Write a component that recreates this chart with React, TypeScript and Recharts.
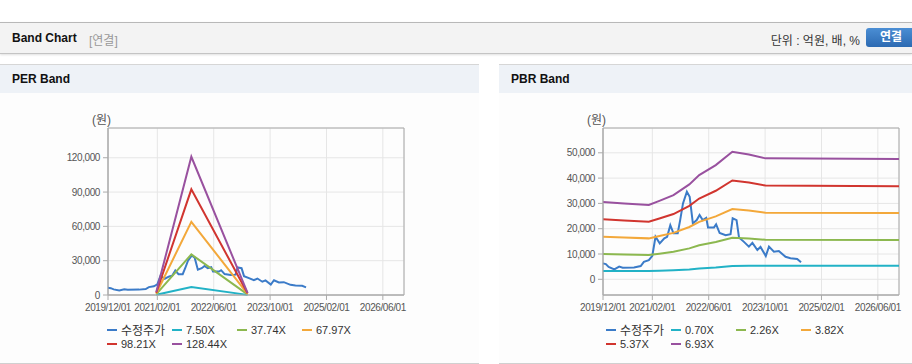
import React from 'react';
import { LineChart, Line, XAxis, YAxis, CartesianGrid, ReferenceArea } from 'recharts';

// x values are months counted from 2019/12
const tickMonths = [0, 14, 30, 46, 62, 78];
const tickLabels = ['2019/12/01', '2021/02/01', '2022/06/01', '2023/10/01', '2025/02/01', '2026/06/01'];

const priceMonths = [0, 0.8, 1.6, 3.2, 4.6, 5.6, 8.8, 10.7, 11.6, 13, 14, 14.9, 16.1, 17.4, 18.2, 19.1, 20, 21.2, 21.9, 22.7, 23.8, 24.6, 25.5, 26.6, 27.4, 28.3, 29.3, 29.8, 31.5, 32.1, 33.1, 34.8, 36.2, 36.8, 37.9, 38.6, 40, 41.4, 42.4, 43.8, 44.7, 46.2, 47.1, 48.5, 49.9, 51.8, 53.2, 55.1, 56.2];
const priceValues = [6300, 6000, 4900, 3950, 5000, 4600, 4700, 5250, 6900, 7600, 9300, 16800, 14200, 16200, 16800, 21400, 18200, 18200, 23400, 30000, 34600, 32600, 22100, 23400, 25400, 23400, 24300, 20500, 20500, 21700, 18300, 17400, 17800, 24100, 23400, 16500, 14800, 12900, 14400, 11600, 12800, 9200, 12900, 10900, 11200, 8900, 8300, 8000, 6700];

const perMonths = [13.7, 23.65, 39.6];
const perNames = ['7.50X', '37.74X', '67.97X', '98.21X', '128.44X'];
const per750 = [150, 7060, 110];
const per3774 = [755, 35500, 570];
const per6797 = [1360, 63950, 1020];
const per9821 = [1960, 92400, 1470];
const per12844 = [2570, 120850, 1930];

const pbrMonths = [0, 6, 13, 16, 20, 24.5, 27.3, 32, 36.7, 41.4, 46.1, 84];
const pbrNames = ['0.70X', '2.26X', '3.82X', '5.37X', '6.93X'];
const pbr070 = [3250, 3250, 3300, 3400, 3600, 3900, 4250, 4700, 5300, 5350, 5350, 5350];
const pbr226 = [9980, 9780, 9570, 10110, 10860, 12230, 13440, 14720, 16440, 16090, 15590, 15490];
const pbr382 = [16870, 16540, 16180, 17090, 18360, 20670, 22710, 24890, 27780, 27200, 26350, 26180];
const pbr537 = [23710, 23250, 22740, 24020, 25800, 29060, 31930, 34990, 39060, 38240, 37040, 36810];
const pbr693 = [30600, 30000, 29350, 31000, 33300, 37500, 41200, 45150, 50400, 49350, 47800, 47500];

const colors = ['#3b7bc8', '#22b2c6', '#8cb84f', '#f3a83a', '#d1352f', '#99519f'];
const priceName = '수정주가';

const pts = (ms: number[], vs: number[]) => ms.map((m, i) => ({ m, v: vs[i] }));
const fmtMonth = (v: number) => tickLabels[tickMonths.indexOf(v)] ?? '';
const fmtNum = (v: number) => v.toLocaleString('en-US');

const FONT = '"Liberation Sans", "Noto Sans CJK KR", sans-serif';

interface BandProps {
  left: number;
  yWidth: number;
  yDomain: [number, number];
  yTicks: number[];
  bandMonths: number[];
  bands: number[][];
  names: string[];
}

const BandChart: React.FC<BandProps> = ({ left, yWidth, yDomain, yTicks, bandMonths, bands, names }) => {
  const axisTick = { fontSize: 10, fill: '#555', letterSpacing: -0.4 };
  const legend = [priceName, ...names];
  return (
    <>
      <div style={{ position: 'absolute', left: left + yWidth - 16, top: 110, fontSize: 12, color: '#555' }}>(원)</div>
      <div style={{ position: 'absolute', left, top: 100 }}>
        <LineChart width={479} height={215} margin={{ top: 28, right: 479 - yWidth - 296, bottom: 0, left: 0 }}>
          <CartesianGrid stroke="#e6e6e6" />
          <XAxis
            type="number"
            dataKey="m"
            domain={[0, 84]}
            ticks={tickMonths}
            interval={0}
            tickFormatter={fmtMonth}
            height={20}
            tickSize={5}
            tickMargin={4}
            axisLine={{ stroke: '#aaa' }}
            tickLine={{ stroke: '#aaa' }}
            tick={axisTick}
          />
          <YAxis
            type="number"
            domain={yDomain}
            ticks={yTicks}
            interval={0}
            tickFormatter={fmtNum}
            width={yWidth}
            tickSize={5}
            tickMargin={3}
            axisLine={{ stroke: '#aaa' }}
            tickLine={{ stroke: '#aaa' }}
            tick={axisTick}
          />
          <ReferenceArea x1={0} x2={84} y1={yDomain[0]} y2={yDomain[1]} fill="none" stroke="#aaa" />
          <Line data={pts(priceMonths, priceValues)} dataKey="v" type="linear" stroke={colors[0]} strokeWidth={2} dot={false} isAnimationActive={false} />
          {bands.map((b, i) => (
            <Line key={names[i]} data={pts(bandMonths, b)} dataKey="v" type="linear" stroke={colors[i + 1]} strokeWidth={2} dot={false} isAnimationActive={false} />
          ))}
        </LineChart>
      </div>
      <div style={{ position: 'absolute', left: left + 107, top: 323, display: 'grid', gridTemplateColumns: 'repeat(4, 65px)', rowGap: 1, fontSize: 11, color: '#333' }}>
        {legend.map((n, i) => (
          <div key={n} style={{ display: 'flex', alignItems: 'center', height: 13 }}>
            <span style={{ width: 10, height: 2, background: colors[i], marginRight: 4 }} />
            <span style={{ fontSize: i === 0 ? 12 : 11 }}>{n}</span>
          </div>
        ))}
      </div>
    </>
  );
};

const panel = (left: number, title: string) => (
  <div style={{ position: 'absolute', left, top: 64, width: 479, height: 298, background: '#fdfdfd', borderTop: '1px solid #d6d6d6', borderBottom: '1px solid #d0d0d0' }}>
    <div style={{ height: 28, background: '#eef2f7', paddingLeft: 12, lineHeight: '29px', fontWeight: 'bold', fontSize: 12, color: '#111' }}>{title}</div>
  </div>
);

export default function App() {
  return (
    <div style={{ position: 'absolute', left: 0, top: 0, width: 912, height: 364, overflow: 'hidden', background: '#fff', fontFamily: FONT }}>
      <div style={{ position: 'absolute', left: 0, top: 22, width: 912, height: 30, background: '#f3f3f3', borderTop: '1px solid #b8b8b8', borderBottom: '1px solid #c4c4c4', boxShadow: '0 1px 2px rgba(0,0,0,0.12)' }}>
        <span style={{ position: 'absolute', left: 12, top: 8, fontSize: 12, fontWeight: 'bold', color: '#111' }}>Band Chart</span>
        <span style={{ position: 'absolute', left: 89, top: 8, fontSize: 12, color: '#999' }}>[연결]</span>
        <span style={{ position: 'absolute', right: 52, top: 8, fontSize: 12, color: '#333' }}>단위 : 억원, 배, %</span>
        <div style={{ position: 'absolute', left: 866, top: 5, width: 50, height: 19, borderRadius: 3, background: 'linear-gradient(#4b8ed4, #2c6ab2)', color: '#fff', fontSize: 12, fontWeight: 'bold', textAlign: 'center', lineHeight: '19px' }}>연결</div>
      </div>
      {panel(0, 'PER Band')}
      {panel(499, 'PBR Band')}
      <BandChart
        left={0}
        yWidth={108}
        yDomain={[0, 146000]}
        yTicks={[0, 30000, 60000, 90000, 120000]}
        bandMonths={perMonths}
        bands={[per750, per3774, per6797, per9821, per12844]}
        names={perNames}
      />
      <BandChart
        left={499}
        yWidth={104}
        yDomain={[-6200, 59800]}
        yTicks={[0, 10000, 20000, 30000, 40000, 50000]}
        bandMonths={pbrMonths}
        bands={[pbr070, pbr226, pbr382, pbr537, pbr693]}
        names={pbrNames}
      />
    </div>
  );
}
